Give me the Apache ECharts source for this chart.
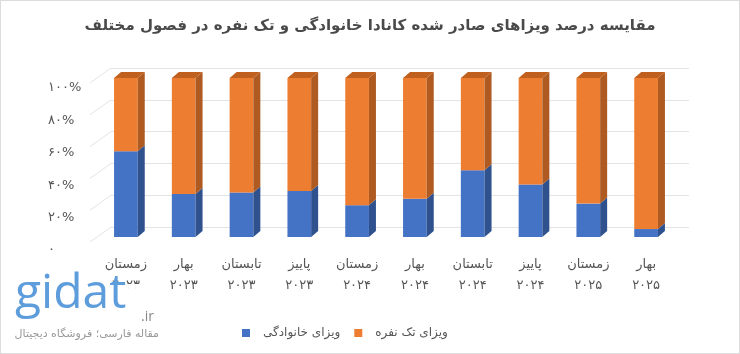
<!DOCTYPE html>
<html>
<head>
<meta charset="utf-8">
<script src="https://cdn.jsdelivr.net/npm/echarts@6/dist/echarts.min.js"></script>
<style>
  html, body { margin: 0; padding: 0; background: #fff; }
  #chart { width: 738px; height: 352px; border: 1px solid #dcdcdc; }
</style>
</head>
<body>
<div id="chart"></div>
<script>
const seasons = ['زمستان', 'بهار', 'تابستان', 'پاییز', 'زمستان', 'بهار', 'تابستان', 'پاییز', 'زمستان', 'بهار'];
const years = ['۲۰۲۳', '۲۰۲۳', '۲۰۲۳', '۲۰۲۳', '۲۰۲۴', '۲۰۲۴', '۲۰۲۴', '۲۰۲۴', '۲۰۲۵', '۲۰۲۵'];
const familyShare = [54, 27, 28, 29, 20, 24, 42, 33, 21, 5];
const singleShare = [46, 73, 72, 71, 80, 76, 58, 67, 79, 95];
const yTicks = ['۰', '۲۰%', '۴۰%', '۶۰%', '۸۰%', '۱۰۰%'];
const gridValues = [0, 20, 40, 60, 80, 100];

const FONT = 'DejaVu Sans';
const chart = echarts.init(document.getElementById('chart'));

// depth of the bar boxes
const DX = 7, DY = 6;

function bar3d(front, side, top, withTop) {
  return function (params, api) {
    const i = api.value(0);
    const lo = api.coord([i, api.value(1)]);
    const hi = api.coord([i, api.value(2)]);
    const w = api.size([1, 0])[0] * 0.41;
    const x0 = lo[0] - w / 2, x1 = lo[0] + w / 2;
    const kids = [
      { type: 'rect', shape: { x: x0, y: hi[1], width: w, height: lo[1] - hi[1] }, style: { fill: front } },
      { type: 'polygon', shape: { points: [[x1, lo[1]], [x1 + DX, lo[1] - DY], [x1 + DX, hi[1] - DY], [x1, hi[1]]] }, style: { fill: side } }
    ];
    if (withTop) {
      kids.push({ type: 'polygon', shape: { points: [[x0, hi[1]], [x0 + DX, hi[1] - DY], [x1 + DX, hi[1] - DY], [x1, hi[1]]] }, style: { fill: top } });
    }
    return { type: 'group', children: kids };
  };
}

const cats = seasons.map((s, i) => s + '\n' + years[i]);

chart.setOption({
  animation: false,
  textStyle: { fontFamily: FONT },
  title: {
    text: 'مقایسه درصد ویزاهای صادر شده کانادا خانوادگی و تک نفره در فصول مختلف',
    left: 'center', top: 13,
    textStyle: { fontFamily: FONT, fontSize: 15, fontWeight: 'bold', color: '#4a4a4a' }
  },
  legend: {
    left: 236, top: 321,
    itemWidth: 8, itemHeight: 8, itemGap: 14, icon: 'rect',
    data: ['ویزای خانوادگی', 'ویزای تک نفره'],
    textStyle: { fontFamily: FONT, fontSize: 12, color: '#555', padding: [0, 0, 0, 8] }
  },
  grid: [
    { left: 96, right: 64, top: 77, bottom: 116 },   // bars (front plane)
    { left: 110, right: 50, top: 67, bottom: 126 },  // back wall gridlines
    { left: 80, right: 600, top: 87, bottom: 103 }   // tick labels
  ],
  xAxis: [
    {
      type: 'category', gridIndex: 0, data: cats,
      axisLine: { show: false }, axisTick: { show: false },
      axisLabel: { margin: 17, fontSize: 13, lineHeight: 21, color: '#555', fontFamily: FONT }
    },
    { type: 'value', gridIndex: 1, min: 0, max: 1, show: false },
    { type: 'value', gridIndex: 2, min: 0, max: 1, show: false }
  ],
  yAxis: [
    { type: 'value', gridIndex: 0, min: 0, max: 100, show: false },
    {
      type: 'value', gridIndex: 1, min: 0, max: 100, interval: 20,
      axisLine: { show: false }, axisTick: { show: false }, axisLabel: { show: false },
      splitLine: { lineStyle: { color: '#e3e3e3', width: 1 } }
    },
    {
      type: 'value', gridIndex: 2, min: 0, max: 100, interval: 20,
      axisLine: { show: false }, axisTick: { show: false }, splitLine: { show: false },
      axisLabel: {
        margin: 33, align: 'left', fontSize: 13, color: '#555', fontFamily: FONT,
        formatter: (v) => yTicks[v / 20]
      }
    }
  ],
  series: [
    {
      name: 'wall', type: 'custom', xAxisIndex: 1, yAxisIndex: 1, silent: true,
      data: gridValues.map(v => [0, v]),
      renderItem: function (params, api) {
        const p = api.coord([0, api.value(1)]);
        return { type: 'line', shape: { x1: p[0] - 21, y1: p[1] + 15, x2: p[0], y2: p[1] }, style: { stroke: '#e3e3e3', lineWidth: 1 } };
      }
    },
    {
      name: 'ویزای خانوادگی', type: 'custom', xAxisIndex: 0, yAxisIndex: 0,
      itemStyle: { color: '#4472C4' },
      data: familyShare.map((v, i) => [i, 0, v]),
      encode: { x: 0, y: [1, 2] },
      renderItem: bar3d('#4472C4', '#2F528F', '#3A62A8', false)
    },
    {
      name: 'ویزای تک نفره', type: 'custom', xAxisIndex: 0, yAxisIndex: 0,
      itemStyle: { color: '#ED7D31' },
      data: singleShare.map((v, i) => [i, familyShare[i], familyShare[i] + v]),
      encode: { x: 0, y: [1, 2] },
      renderItem: bar3d('#ED7D31', '#AE5A21', '#C0601F', true)
    }
  ],
  // watermark logo
  graphic: [
    { type: 'rect', zlevel: 1, shape: { x: 12, y: 283, width: 150, height: 63 }, style: { fill: 'rgba(255,255,255,0.94)' } },
    { type: 'text', zlevel: 1, x: 14, y: 293, style: { text: 'gidat', fontFamily: 'Open Sans', fontSize: 48, fill: '#5e9ddb', verticalAlign: 'middle' } },
    { type: 'text', zlevel: 1, x: 140, y: 316, style: { text: '.ir', fontFamily: 'Open Sans', fontSize: 14, fill: '#888', verticalAlign: 'middle' } },
    { type: 'text', zlevel: 1, x: 158, y: 333, style: { text: 'مقاله فارسی؛ فروشگاه دیجیتال', fontFamily: FONT, fontSize: 11, fill: '#999', align: 'right', verticalAlign: 'middle' } }
  ]
});
</script>
</body>
</html>
